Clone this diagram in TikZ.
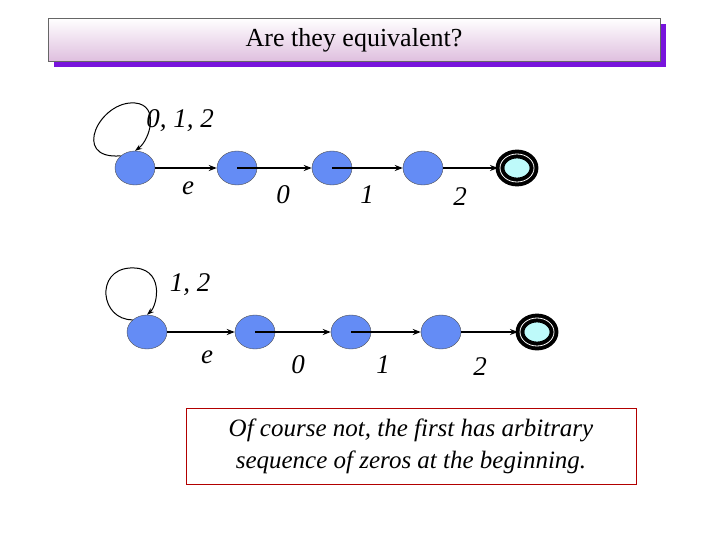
\documentclass[tikz,border=0pt]{standalone}
\usepackage{fontspec}
\setmainfont{Liberation Serif}
\usetikzlibrary{arrows.meta,shapes.geometric}
\begin{document}
\begin{tikzpicture}[x=1pt,y=-1pt,
  st/.style={ellipse,draw=black!70,fill=stblue,minimum width=40pt,minimum height=34pt,inner sep=0pt},
  fin/.style={ellipse,draw=black,line width=4pt,double=white,double distance=0.8pt,fill=finc,minimum width=34pt,minimum height=28pt,inner sep=0pt},
  tr/.style={-{Stealth[length=8pt,width=6pt]},line width=1.4pt},
  lp/.style={-{Stealth[length=7pt,width=5pt]},line width=1pt},
  lbl/.style={font=\fontsize{27}{30}\selectfont\itshape}]
\definecolor{stblue}{RGB}{100,140,245}
\definecolor{finc}{RGB}{190,250,250}
\definecolor{shad}{RGB}{120,20,220}
\useasboundingbox (0,0) rectangle (720,540);
% title
\fill[shad] (54,24) rectangle (666,67);
\shade[top color=white,bottom color=violet!25!white,draw=black!60] (48,18) rectangle (660,61);
\node[font=\fontsize{26}{30}\selectfont] (title) at (354,40) {Are they equivalent?};
% top row
\node[st] (a1) at (135,168) {};
\node[st] (a2) at (237,168) {};
\node[st] (a3) at (332,168) {};
\node[st] (a4) at (423,168) {};
\node[fin] (a5) at (517,168) {};
\draw[tr] (a1) -- (a2);
\draw[tr] (a2.center) -- (a3);
\draw[tr] (a3.center) -- (a4);
\draw[tr] (a4) -- (a5);
\draw[lp] (a1.north west) .. controls (70,160) and (100,100) .. (135,103) .. controls (160,105) and (150,140) .. (a1.north);
\node[lbl] (l0) at (180,121) {0, 1, 2};
\node[lbl] (e1) at (188,188) {e};
\node[lbl] (z1) at (283,195) {0};
\node[lbl] (o1) at (367,195) {1};
\node[lbl] (t1) at (460,197) {2};
% bottom row
\node[st] (b1) at (147,332) {};
\node[st] (b2) at (255,332) {};
\node[st] (b3) at (351,332) {};
\node[st] (b4) at (441,332) {};
\node[fin] (b5) at (537,332) {};
\draw[tr] (b1) -- (b2);
\draw[tr] (b2.center) -- (b3);
\draw[tr] (b3.center) -- (b4);
\draw[tr] (b4) -- (b5);
\draw[lp] (b1.north west) .. controls (100,320) and (95,270) .. (130,268) .. controls (165,266) and (158,305) .. (b1.north);
\node[lbl] (l1) at (190,285) {1, 2};
\node[lbl] (e2) at (207,357) {e};
\node[lbl] (z2) at (298,365) {0};
\node[lbl] (o2) at (383,365) {1};
\node[lbl] (t2) at (480,367) {2};
% note
\node[draw=red!70!black,thin,minimum width=450pt,minimum height=76pt,align=center,font=\fontsize{25}{32}\selectfont\itshape] (note) at (411,446) {Of course not, the first has arbitrary\\sequence of zeros at the beginning.};
\end{tikzpicture}
\end{document}
